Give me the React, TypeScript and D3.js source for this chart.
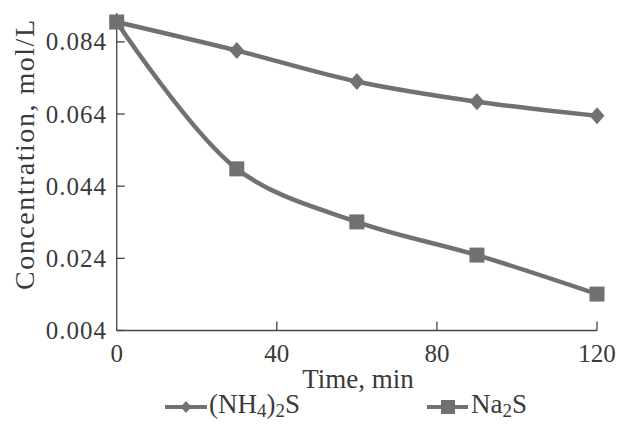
import React from "react";
import * as d3 from "d3";

const times = [0, 30, 60, 90, 120];
const nh4Values = [0.0895, 0.0816, 0.073, 0.0674, 0.0635];
const na2sValues = [0.0895, 0.0488, 0.0341, 0.0249, 0.0141];
const yTicks = [0.004, 0.024, 0.044, 0.064, 0.084];
const xTicks = [0, 40, 80, 120];

const W = 617;
const H = 425;
const GRAY = "#707173";
const TEXT = "#3a3a3a";
const FONT = "'Liberation Serif', 'Times New Roman', serif";

export default function App() {
  const x = d3.scaleLinear().domain([0, 120]).range([116.7, 597]);
  const y = d3.scaleLinear().domain([0.004, 0.092]).range([330.5, 13]);
  const line = d3
    .line<number>()
    .x((_, i) => x(times[i]))
    .y((d) => y(d))
    .curve(d3.curveCatmullRom.alpha(0.5));

  const diamond = (cx: number, cy: number, rx: number, ry: number) =>
    `M${cx},${cy - ry}L${cx + rx},${cy}L${cx},${cy + ry}L${cx - rx},${cy}Z`;

  const x0 = x(0);
  const y0 = y(0.004);

  return (
    <svg
      width={W}
      height={H}
      style={{ position: "absolute", left: 0, top: 0, background: "#fff" }}
      fontFamily={FONT}
    >
      <rect width={W} height={H} fill="#fff" />
      {/* axes */}
      <line x1={x0} x2={x0} y1={13} y2={y0} stroke="#444" strokeWidth={1.3} />
      <line x1={x0} x2={x(120)} y1={y0} y2={y0} stroke="#444" strokeWidth={1.3} />
      {yTicks.map((t) => (
        <g key={"y" + t}>
          <line x1={x0} x2={x0 + 8} y1={y(t)} y2={y(t)} stroke="#444" strokeWidth={1.3} />
          <text
            x={107}
            y={y(t) + 8.5}
            textAnchor="end"
            fontSize={25}
            letterSpacing={1}
            fill={TEXT}
          >
            {t.toFixed(3)}
          </text>
        </g>
      ))}
      {xTicks.map((t) => (
        <g key={"x" + t}>
          {t > 0 && (
            <line x1={x(t)} x2={x(t)} y1={y0} y2={y0 - 9} stroke="#444" strokeWidth={1.3} />
          )}
          <text x={x(t)} y={362} textAnchor="middle" fontSize={25} fill={TEXT}>
            {t}
          </text>
        </g>
      ))}
      <text x={358} y={388} textAnchor="middle" fontSize={27} fill={TEXT}>
        Time, min
      </text>
      <text
        transform={`translate(34,155) rotate(-90)`}
        textAnchor="middle"
        fontSize={28}
        textLength={270}
        lengthAdjust="spacing"
        fill={TEXT}
      >
        Concentration, mol/L
      </text>

      {/* series */}
      <path d={line(nh4Values) || ""} fill="none" stroke={GRAY} strokeWidth={4.5} />
      {nh4Values.map((v, i) => (
        <path key={"d" + i} d={diamond(x(times[i]), y(v), 7.5, 8.5)} fill={GRAY} />
      ))}
      <path d={line(na2sValues) || ""} fill="none" stroke={GRAY} strokeWidth={4.5} />
      {na2sValues.map((v, i) => (
        <rect
          key={"s" + i}
          x={x(times[i]) - 7.5}
          y={y(v) - 7.5}
          width={15}
          height={15}
          fill={GRAY}
        />
      ))}

      {/* legend */}
      <line x1={165} x2={207} y1={407} y2={407} stroke={GRAY} strokeWidth={4} />
      <path d={diamond(186, 407, 5.5, 6)} fill={GRAY} />
      <text x={209} y={413} fontSize={27} fill={TEXT}>
        (NH
        <tspan fontSize={19} dy={4}>4</tspan>
        <tspan dy={-4}>)</tspan>
        <tspan fontSize={19} dy={4}>2</tspan>
        <tspan dy={-4}>S</tspan>
      </text>
      <line x1={427} x2={468} y1={407} y2={407} stroke={GRAY} strokeWidth={4} />
      <rect x={441} y={400} width={14} height={14} fill={GRAY} />
      <text x={471} y={413} fontSize={27} fill={TEXT}>
        Na
        <tspan fontSize={19} dy={4}>2</tspan>
        <tspan dy={-4}>S</tspan>
      </text>
    </svg>
  );
}
